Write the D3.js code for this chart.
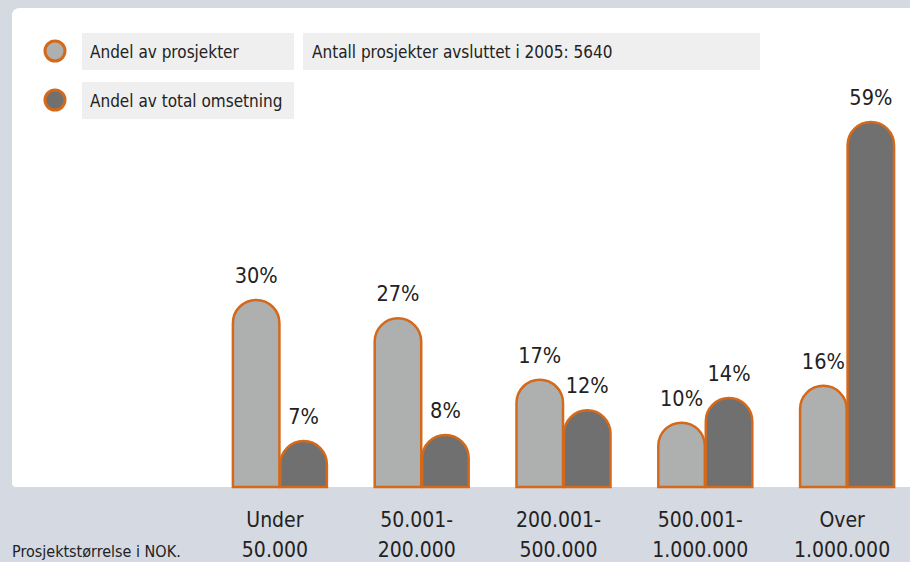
<!DOCTYPE html>
<html>
<head>
<meta charset="utf-8">
<script src="https://cdn.jsdelivr.net/npm/d3@7"></script>
<style>
  body { margin: 0; background: #d5d9e2; }
  text { font-family: "DejaVu Sans Condensed", "DejaVu Sans", sans-serif; fill: #222; }
</style>
</head>
<body>
<div id="chart"></div>
<script>
const categories = [["Under", "50.000"], ["50.001-", "200.000"], ["200.001-", "500.000"], ["500.001-", "1.000.000"], ["Over", "1.000.000"]];
const seriesNames = ["Andel av prosjekter", "Andel av total omsetning"];
const andelProsjekter = [30, 27, 17, 10, 16];
const andelOmsetning = [7, 8, 12, 14, 59];
const infoText = "Antall prosjekter avsluttet i 2005: 5640";
const axisTitle = "Prosjektstørrelse i NOK.";

const svgWidth = 910;
const svgHeight = 562;
const baseline = 487;
const colors = ["#aeb0af", "#6f706f"];
const orange = "#d4691b";

const svg = d3.select("#chart")
  .append("svg")
    .attr("width", svgWidth)
    .attr("height", svgHeight);

// background + white panel (rounded on the left only)
svg.append("rect").attr("width", svgWidth).attr("height", svgHeight).attr("fill", "#d5d9e2");
svg.append("path")
  .attr("fill", "#fff")
  .attr("d", `M20,8 H920 V${baseline} H16 Q12,${baseline} 12,${baseline - 4} V16 Q12,8 20,8 Z`);

const data = categories.map((c, i) => ({cat: i, values: [andelProsjekter[i], andelOmsetning[i]]}));

const x = d3.scaleBand()
  .domain(d3.range(categories.length))
  .range([209, 918]);

const xSub = d3.scaleBand()
  .domain([0, 1])
  .range([0, 94])
  .paddingInner(0.02);

const y = d3.scaleLinear()
  .domain([0, 59])
  .range([484, 122]);

function capsule(x0, w, top) {
  const r = w / 2;
  const h = baseline - top;
  const rr = Math.min(r, h);
  return `M${x0},${baseline} V${top + rr} A${r},${rr} 0 0 1 ${x0 + w},${top + rr} V${baseline} Z`;
}

const groups = svg.selectAll(".group")
  .data(data)
  .join("g")
    .attr("transform", d => `translate(${x(d.cat) + x.bandwidth() / 2 - 47},0)`);

groups.selectAll("path")
  .data(d => d.values.map((v, k) => ({k, v})))
  .join("path")
    .attr("d", d => capsule(xSub(d.k), xSub.bandwidth(), y(d.v)))
    .attr("fill", d => colors[d.k])
    .attr("stroke", orange)
    .attr("stroke-width", 2.5);

groups.selectAll(".val")
  .data(d => d.values.map((v, k) => ({k, v})))
  .join("text")
    .attr("class", "val")
    .attr("x", d => xSub(d.k) + xSub.bandwidth() / 2)
    .attr("y", d => y(d.v) - 17)
    .attr("text-anchor", "middle")
    .attr("font-size", 21.5)
    .text(d => d.v + "%");

// category labels
const labels = svg.selectAll(".cat")
  .data(data)
  .join("text")
    .attr("class", "cat")
    .attr("text-anchor", "middle")
    .attr("font-size", 21)
    .attr("x", d => x(d.cat) + x.bandwidth() / 2 - 5);
labels.append("tspan").attr("y", 527).text(d => categories[d.cat][0]);
labels.append("tspan").attr("y", 557).attr("x", d => x(d.cat) + x.bandwidth() / 2 - 5).text(d => categories[d.cat][1]);

svg.append("text")
  .attr("x", 12)
  .attr("y", 557)
  .attr("font-size", 16)
  .text(axisTitle);

// legend
const legend = svg.selectAll(".legend")
  .data(seriesNames)
  .join("g")
    .attr("transform", (d, i) => `translate(0,${33 + i * 49})`);
legend.append("rect")
  .attr("x", 82).attr("width", 212).attr("height", 37)
  .attr("fill", "#efefef");
legend.append("circle")
  .attr("cx", 55).attr("cy", 18).attr("r", 10)
  .attr("fill", (d, i) => colors[i])
  .attr("stroke", orange)
  .attr("stroke-width", 3);
legend.append("text")
  .attr("x", 90).attr("y", 24.5)
  .attr("font-size", 17)
  .text(d => d);

svg.append("rect")
  .attr("x", 303).attr("y", 33).attr("width", 457).attr("height", 37)
  .attr("fill", "#efefef");
svg.append("text")
  .attr("x", 312).attr("y", 57.5)
  .attr("font-size", 17)
  .text(infoText);
</script>
</body>
</html>
